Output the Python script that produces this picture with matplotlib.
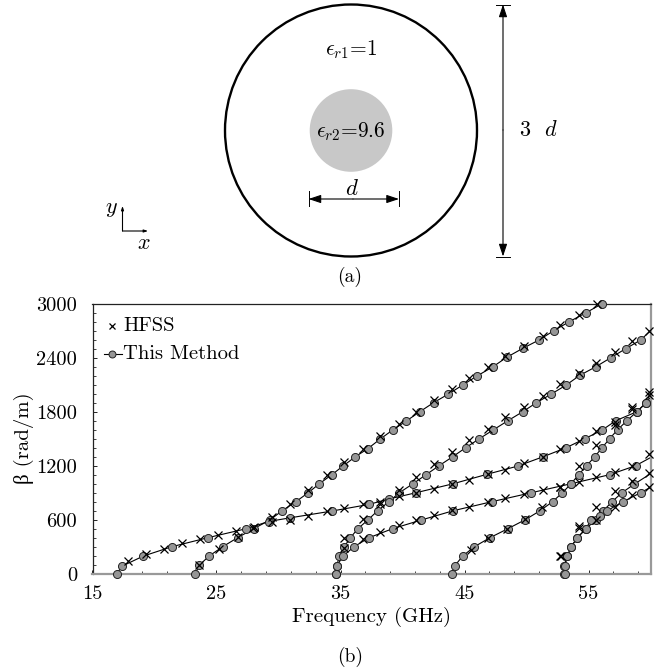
import matplotlib
matplotlib.use("Agg")
import matplotlib.pyplot as plt
from matplotlib.patches import Circle

plt.rcParams['font.family'] = ['cmr10', 'Liberation Serif', 'DejaVu Serif']
plt.rcParams['mathtext.fontset'] = 'cm'
plt.rcParams['axes.unicode_minus'] = False

W, H = 663, 672

# This Method (circles, with line)
m1_f = [23.3,23.6,24.4,25.5,26.7,28.0,29.3,30.3,31.4,32.4,33.3,34.3,35.2,36.2,37.2,38.2,39.2,40.3,41.4,42.5,43.7,44.85,46.0,47.3,48.4,49.7,51.0,52.2,53.45,54.8,56.1]
m1_b = [0,93,196,300,400,500,596,700,800,900,1000,1100,1196,1300,1389,1496,1596,1696,1800,1900,1996,2096,2196,2300,2404,2504,2596,2700,2800,2900,3000]
m2_f = [15.0,16.95,17.4,19.1,21.4,24.3,27.4,29.2,30.9,34.3,37.3,38.9,41.1,44.1,46.8,49.3,51.35,53.2,54.7,56.1,57.2,58.9,59.6,60.0]
m2_b = [0,0,85,196,300,400,500,580,620,696,770,830,900,1000,1104,1196,1300,1400,1500,1596,1700,1800,1893,2000]
m3_f = [34.6,34.7,34.9,35.3,35.8,36.4,37.2,38.0,38.9,39.75,40.85,41.9,42.95,44.05,45.1,46.2,47.3,48.5,49.7,50.8,52.0,53.2,54.3,55.6,56.8,58.0,59.2,60.0]
m3_b = [0,85,196,300,400,500,596,700,800,900,1000,1100,1200,1300,1400,1500,1596,1700,1800,1900,1996,2096,2204,2300,2400,2500,2596,2700]
m4_f = [34.6,34.7,35.2,36.1,37.3,39.2,41.5,44.1,47.2,50.4,53.6,56.7,58.8,60.0]
m4_b = [0,85,196,300,400,500,596,700,800,900,1000,1100,1200,1290]
m5_f = [44.0,44.2,44.85,45.8,47.05,48.5,49.9,51.1,52.1,52.9,53.6,54.2,54.85,55.5,56.1,56.7,57.35,58.1,58.9,59.6,60.0]
m5_b = [0,85,196,300,400,500,600,700,800,900,1000,1100,1200,1300,1400,1500,1600,1700,1800,1893,1960]
m6_f = [53.0,53.0,53.3,53.6,54.1,54.8,55.6,56.2,56.9,57.7,58.7,60.0]
m6_b = [0,85,196,300,400,500,600,700,800,900,996,1110]
m7_f = [53.1,53.1,53.3,53.6,54.1,54.8,55.2,55.9,56.5,57.8,59.2,60.0]
m7_b = [0,85,196,300,400,500,600,640,700,800,900,960]

# HFSS (crosses)
h_f1 = [23.6,25.2,26.7,27.97,29.5,30.9,32.4,33.9,35.3,36.8,38.2,39.7,41.1,42.5,44.0,45.4,46.9,48.3,49.8,51.3,52.7,54.2,55.7]
h_b1 = [100,270,404,511,633,774,926,1093,1241,1385,1530,1663,1793,1926,2052,2174,2296,2419,2533,2644,2759,2874,2993]
h_f2 = [17.9,19.3,20.75,22.2,23.7,25.15,26.6,28.0,29.5,30.9,32.4,33.9,35.3,36.8,38.2,39.7,41.1,42.5,44.0,45.4,46.9,48.3,49.8,51.3,52.7,54.2,55.6,57.1,58.5,59.9]
h_b2 = [140,215,278,337,381,430,478,519,570,596,644,693,730,774,800,863,900,940,996,1041,1104,1156,1226,1300,1381,1474,1581,1685,1830,2022]
h_f3 = [35.3,36.8,38.2,39.7,41.1,42.5,44.0,45.4,46.9,48.3,49.8,51.3,52.7,54.2,55.6,57.1,58.5,59.9]
h_b3 = [393,611,780,930,1078,1215,1348,1481,1607,1737,1856,1978,2107,2226,2344,2463,2585,2700]
h_f4 = [35.3,36.8,38.2,39.7,41.1,42.5,44.0,45.4,46.9,48.3,49.8,51.3,52.7,54.2,55.6,57.1,58.5,59.9]
h_b4 = [281,381,459,537,596,648,707,744,796,841,885,930,967,1022,1070,1130,1200,1330]
h_f5 = [45.5,46.9,48.4,49.9,51.25,52.7,54.2,55.6,57.1,58.5,59.9]
h_b5 = [263,400,500,611,737,967,1196,1430,1652,1856,1985]
h_f6 = [52.8,54.2,55.6,57.1,58.5,59.9]
h_b6 = [200,504,737,915,1033,1122]
h_f7 = [52.7,54.2,55.6,57.1,58.5,59.9]
h_b7 = [200,530,596,744,874,967]

x_ticks = [15, 25, 35, 45, 55]
y_ticks = [0, 600, 1200, 1800, 2400, 3000]

fig = plt.figure(figsize=(W/100, H/100), dpi=100)

# Overlay in pixel coordinates for the schematic and captions
ov = fig.add_axes([0, 0, 1, 1], zorder=5)
ov.set_xlim(0, W); ov.set_ylim(H, 0); ov.axis('off'); ov.patch.set_alpha(0)
ov.add_patch(Circle((351, 130.5), 126, fc='none', ec='black', lw=1.7))
ov.add_patch(Circle((351, 130.5), 41.3, fc='#c8c8c8', ec='none'))

def arrow(x0, y0, x1, y1, head=1.0):
    ov.annotate('', xy=(x1, y1), xytext=(x0, y0),
                arrowprops=dict(arrowstyle=f'-|>,head_length={0.75*head},head_width={0.25*head}',
                                color='black', lw=0.8, shrinkA=0, shrinkB=0))

arrow(503, 130, 503, 4.5); arrow(503, 130, 503, 256.5)
ov.plot([496, 510], [4.5, 4.5], color='k', lw=0.7); ov.plot([496, 510], [256.5, 256.5], color='k', lw=0.7)
arrow(353, 199, 308.5, 199); arrow(353, 199, 399, 199)
ov.plot([308.5, 308.5], [191, 206], color='k', lw=0.7); ov.plot([399, 399], [191, 206], color='k', lw=0.7)
arrow(122.5, 231, 122.5, 206, 0.3); arrow(122.5, 231, 148, 231, 0.3)

fs = 15.5
ov.text(351, 50, r'$\epsilon_{r1}$=1', ha='center', va='center', fontsize=fs)
ov.text(351, 132, r'$\epsilon_{r2}$=9.6', ha='center', va='center', fontsize=fs)
ov.text(352, 189, r'$d$', ha='center', va='center', fontsize=16.5)
ov.text(539, 130, r'3  $d$', ha='center', va='center', fontsize=16)
ov.text(111, 209, r'$y$', ha='center', va='center', fontsize=16)
ov.text(144, 243, r'$x$', ha='center', va='center', fontsize=16)
ov.text(350, 277, '(a)', ha='center', va='center', fontsize=14)
ov.text(350, 657, '(b)', ha='center', va='center', fontsize=14)

# Chart axes
L, R, T, B = 92.5, 650.5, 303.7, 573.7
ax = fig.add_axes([L/W, 1-B/H, (R-L)/W, (B-T)/H], zorder=3)

series = [(m1_f, m1_b), (m2_f, m2_b), (m3_f, m3_b), (m4_f, m4_b), (m5_f, m5_b), (m6_f, m6_b), (m7_f, m7_b)]
for f, b in series:
    ax.plot(f, b, color='black', lw=0.8, zorder=2)
ax.plot(m2_f[:2], m2_b[:2], color='black', lw=1.4, zorder=2, clip_on=False)
for i, (f, b) in enumerate(series):
    start = 1 if i == 1 else 0
    fp, bp = f[start:], b[start:]
    if fp[-1] == 60.0:
        fp, bp = fp[:-1], bp[:-1]
    ax.plot(fp, bp, ls='none', marker='o', ms=5.8, mfc='#969696', mec='#222222', mew=0.7, zorder=3, clip_on=False)
hf = [(h_f1, h_b1), (h_f2, h_b2), (h_f3, h_b3), (h_f4, h_b4), (h_f5, h_b5), (h_f6, h_b6), (h_f7, h_b7)]
for f, b in hf:
    ax.plot(f, b, ls='none', marker='x', ms=5.8, mec='black', mew=0.9, zorder=4, clip_on=False)

ax.set_xlim(15, 60.0); ax.set_ylim(0, 3000)
ax.set_xticks(x_ticks)
ax.set_xticks([x for x in range(15, 60, 2)], minor=True)
ax.set_yticks(y_ticks)
ax.set_yticks(list(range(0, 3001, 100)), minor=True)
ax.tick_params(which='major', direction='in', length=3, width=0.7, labelsize=14.7, color='#222222')
ax.tick_params(axis='x', which='major', pad=8)
ax.tick_params(axis='y', which='major', pad=11)
ax.tick_params(which='minor', direction='in', length=2, width=0.6, color='#222222')
for s, c, lw in (('top', '#222222', 0.9), ('left', '#222222', 0.9), ('right', '#999999', 1.6), ('bottom', '#999999', 1.6)):
    ax.spines[s].set_color(c); ax.spines[s].set_linewidth(lw)

ov.text(372, 617, 'Frequency (GHz)', ha='center', va='center', fontsize=15)
ov.text(24, 438, 'β (rad/m)', ha='center', va='center', rotation=90, fontsize=15)

# Legend: pixel placement via a handle-only overlay
ov.plot([112], [326], ls='none', marker='x', ms=5, mec='black', mew=0.9)
ov.plot([104, 122], [354, 354], color='black', lw=0.8)
ov.plot([112], [354], ls='none', marker='o', ms=5, mfc='#969696', mec='#222222', mew=0.7)
ov.text(123, 326, 'HFSS', ha='left', va='center', fontsize=14.8)
ov.text(123, 354, 'This Method', ha='left', va='center', fontsize=14.8)

fig.savefig('out.png', dpi=100)
